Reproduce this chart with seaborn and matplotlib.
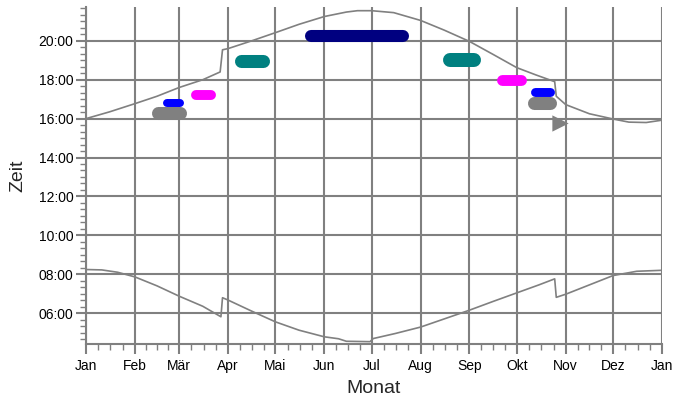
import matplotlib
matplotlib.use("Agg")
import matplotlib.pyplot as plt
import seaborn as sns
from matplotlib.ticker import FixedLocator, FuncFormatter, MultipleLocator

# month starts as day of year
month_starts = [0, 31, 59, 90, 120, 151, 181, 212, 243, 273, 304, 334, 365]
month_labels = ["Jan", "Feb", "Mär", "Apr", "Mai", "Jun", "Jul", "Aug",
                "Sep", "Okt", "Nov", "Dez", "Jan"]

# sunset (day of year, hour)
sunset_day = [0, 15, 31, 45, 59, 74, 85, 86.5, 90, 105, 120, 135, 151, 165,
              172, 181, 195, 212, 227, 243, 258, 273, 285, 297, 298, 304,
              319, 334, 344, 355, 365]
sunset_time = [16.0, 16.35, 16.77, 17.15, 17.6, 18.0, 18.4, 19.54, 19.6,
               20.0, 20.42, 20.85, 21.25, 21.48, 21.55, 21.55, 21.45, 21.05,
               20.55, 19.97, 19.3, 18.62, 18.25, 17.9, 17.15, 16.72, 16.25,
               15.98, 15.82, 15.8, 15.92]

# sunrise (day of year, hour)
sunrise_day = [0, 10, 20, 31, 45, 59, 74, 85.5, 86.5, 90, 105, 120, 135, 151,
               160, 165, 180, 182, 196, 212, 227, 243, 258, 273, 287, 297,
               298, 304, 319, 334, 349, 365]
sunrise_time = [8.24, 8.22, 8.1, 7.86, 7.4, 6.87, 6.35, 5.81, 6.79, 6.67,
                6.1, 5.55, 5.12, 4.78, 4.68, 4.55, 4.53, 4.69, 4.95, 5.28,
                5.7, 6.15, 6.6, 7.04, 7.45, 7.76, 6.81, 6.97, 7.45, 7.93,
                8.15, 8.2]

# observation clusters: colour, first day, last day, mean time, time spread (h)
blob_color = ["#0000ff", "#808080", "#ff00ff", "#008080", "#000080",
              "#008080", "#ff00ff", "#0000ff", "#808080", "#808080"]
blob_start = [48.8, 41.8, 66.3, 94.4, 138.8, 226, 260, 282, 280, 297]
blob_end = [62, 63.9, 82.4, 116, 205, 250, 279, 297, 298, 304]
blob_time = [16.8, 16.3, 17.2, 18.95, 20.25, 19.0, 17.97, 17.36, 16.8, 15.8]
blob_spread = [0.41, 0.67, 0.51, 0.67, 0.62, 0.72, 0.56, 0.46, 0.67, 0.62]

sns.set_theme(style="white")
plt.rcParams["font.family"] = ["Liberation Sans", "DejaVu Sans"]

grey = "#808080"
fig = plt.figure(figsize=(6.74, 4.01), dpi=100)
ax = fig.add_axes([86 / 674, 57 / 401, 576 / 674, 337 / 401])

ax.set_xlim(0, 365)
ax.set_ylim(4.41, 21.74)

sns.lineplot(x=sunset_day, y=sunset_time, color=grey, lw=1.2, ax=ax,
             estimator=None, sort=False, zorder=3)
sns.lineplot(x=sunrise_day, y=sunrise_time, color=grey, lw=1.2, ax=ax,
             estimator=None, sort=False, zorder=3)

# blobs as thick rounded strokes
fig.canvas.draw()
px_hour = ax.transData.transform((0, 1))[1] - ax.transData.transform((0, 0))[1]
px_day = ax.transData.transform((1, 0))[0] - ax.transData.transform((0, 0))[0]
for c, s, e, t, h in zip(blob_color, blob_start, blob_end, blob_time, blob_spread):
    lw_px = h * px_hour
    cap = lw_px / 2 / px_day
    a, b = s + cap, e - cap
    if b - a < 0.5:
        # too short for a stroke: small triangular cluster
        size_pt = lw_px * 72 / 100 * 1.35
        ax.scatter([(s + e) / 2], [t], marker=">", s=size_pt ** 2, color=c,
                   linewidths=0, zorder=4)
        continue
    ax.plot([a, b], [t, t], color=c, lw=lw_px * 72 / 100,
            solid_capstyle="round", zorder=4)

# ticks
ax.xaxis.set_major_locator(FixedLocator(month_starts))
ax.set_xticklabels(month_labels)
minor_x = []
for i in range(12):
    d = (month_starts[i + 1] - month_starts[i]) / 4
    minor_x += [month_starts[i] + d * k for k in (1, 2, 3)]
ax.xaxis.set_minor_locator(FixedLocator(minor_x))

ax.yaxis.set_major_locator(FixedLocator([6, 8, 10, 12, 14, 16, 18, 20]))
ax.yaxis.set_major_formatter(FuncFormatter(lambda v, p: f"{int(v):02d}:00"))
ax.yaxis.set_minor_locator(MultipleLocator(1 / 3))

ax.tick_params(which="major", length=7, width=1.5, color=grey,
               labelsize=10, labelcolor="black", pad=2, direction="out")
ax.tick_params(axis="x", which="major", pad=4)
ax.tick_params(which="minor", length=4, width=1, color=grey, direction="out")
ax.tick_params(axis="x", which="both", bottom=True)
ax.tick_params(axis="y", which="both", left=True)

ax.grid(True, which="major", color=grey, lw=1.5)
ax.set_axisbelow(True)
for side in ["top", "right"]:
    ax.spines[side].set_visible(False)
for side in ["left", "bottom"]:
    ax.spines[side].set_color(grey)
    ax.spines[side].set_linewidth(1.5)

ax.set_xlabel("Monat", fontsize=14, labelpad=5)
ax.set_ylabel("Zeit", fontsize=14, labelpad=9)

fig.savefig("out.png", dpi=100)
